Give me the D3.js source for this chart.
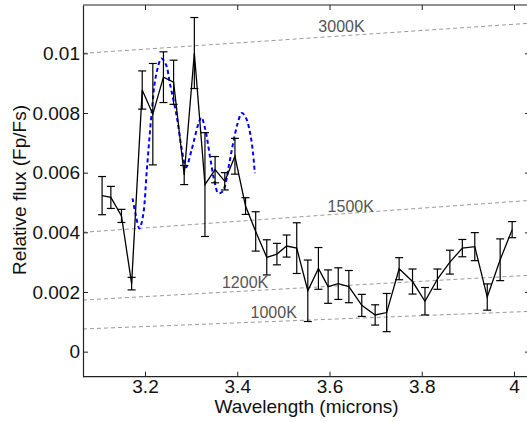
<!DOCTYPE html>
<html>
<head>
<meta charset="utf-8">
<script src="https://cdn.jsdelivr.net/npm/d3@7"></script>
<style>
  html, body { margin: 0; padding: 0; background: #fff; }
  svg { display: block; }
  text { font-family: "Liberation Sans", Arial, sans-serif; }
</style>
</head>
<body>
<svg id="chart" width="527" height="422"></svg>
<script>
// ---- data ----
const wavelength = [3.107, 3.126, 3.149, 3.171, 3.194, 3.217, 3.240, 3.262, 3.285, 3.307,
  3.330, 3.352, 3.373, 3.395, 3.418, 3.440, 3.464, 3.486, 3.507, 3.529,
  3.553, 3.576, 3.597, 3.619, 3.642, 3.670, 3.699, 3.724, 3.751, 3.780,
  3.807, 3.834, 3.861, 3.888, 3.915, 3.942, 3.970, 3.996];
const flux = [0.00523, 0.00517, 0.00455, 0.00228, 0.00877, 0.00796, 0.00920, 0.00903, 0.00592, 0.01001,
  0.00560, 0.00610, 0.00571, 0.00655, 0.00488, 0.00403, 0.00316, 0.00327, 0.00354, 0.00347,
  0.00204, 0.00279, 0.00218, 0.00228, 0.00218, 0.00155, 0.00123, 0.00131, 0.00278, 0.00235,
  0.00169, 0.00243, 0.00300, 0.00347, 0.00352, 0.00183, 0.00308, 0.00409];
const fluxErr = [0.00064, 0.00037, 0.00022, 0.00021, 0.00064, 0.00170, 0.00085, 0.00074, 0.00032, 0.00119,
  0.00174, 0.00044, 0.00029, 0.00060, 0.00028, 0.00066, 0.00059, 0.00036, 0.00037, 0.00085,
  0.00103, 0.00070, 0.00056, 0.00053, 0.00054, 0.00037, 0.00034, 0.00064, 0.00037, 0.00042,
  0.00046, 0.00034, 0.00040, 0.00029, 0.00047, 0.00044, 0.00070, 0.00027];

const modelWave = [3.173, 3.180, 3.188, 3.196, 3.204, 3.215, 3.224, 3.236, 3.246, 3.254,
  3.269, 3.280, 3.289, 3.301, 3.316, 3.322, 3.330, 3.341, 3.350, 3.359,
  3.367, 3.373, 3.382, 3.391, 3.401, 3.410, 3.419, 3.428, 3.434, 3.438];
const modelFlux = [0.00514, 0.00458, 0.00413, 0.00458, 0.00609, 0.00810, 0.00927, 0.00983, 0.00960, 0.00899,
  0.00787, 0.00676, 0.00618, 0.00676, 0.00765, 0.00785, 0.00750, 0.00653, 0.00575, 0.00531,
  0.00535, 0.00553, 0.00625, 0.00698, 0.00766, 0.00800, 0.00783, 0.00732, 0.00669, 0.00598];

const bbNames = ["3000K", "1500K", "1200K", "1000K"];
const bbWave = [3.0656, 4.0347];
const bb3000 = [0.01000, 0.01101];
const bb1500 = [0.00400, 0.00507];
const bb1200 = [0.00173, 0.00256];
const bb1000 = [0.00076, 0.00135];
const bbLabelWave = [3.626, 3.646, 3.417, 3.479];
const bbLabelFlux = [0.01071, 0.00469, 0.00212, 0.00113];

const xTicks = [3.2, 3.4, 3.6, 3.8, 4];
const xTickLabels = ["3.2", "3.4", "3.6", "3.8", "4"];
const yTicks = [0, 0.002, 0.004, 0.006, 0.008, 0.01];
const yTickLabels = ["0", "0.002", "0.004", "0.006", "0.008", "0.01"];

const xLabel = "Wavelength (microns)";
const yLabel = "Relative flux (Fp/Fs)";

// ---- layout ----
const L = 83, R = 530, T = 5, B = 376.7;
const svg = d3.select("#chart");
const x = d3.scaleLinear().domain([3.0656, 4.0347]).range([L, R]);
const y = d3.scaleLinear().domain([-0.00084, 0.01162]).range([B, T]);

const plot = svg.append("g");

// blackbody reference lines
const bbSeries = [bb3000, bb1500, bb1200, bb1000];
const line2 = d3.line().x(d => x(d[0])).y(d => y(d[1]));
bbSeries.forEach(vals => {
  plot.append("path")
    .attr("d", line2(bbWave.map((w, i) => [w, vals[i]])))
    .attr("fill", "none").attr("stroke", "#9a9a9a").attr("stroke-width", 1)
    .attr("stroke-dasharray", "4,3");
});
bbNames.forEach((n, i) => {
  plot.append("text").attr("x", x(bbLabelWave[i])).attr("y", y(bbLabelFlux[i]))
    .attr("text-anchor", "middle").attr("font-size", "16px").attr("fill", "#555")
    .text(n);
});

// model curve (blue dashed)
const lineModel = d3.line().x(d => x(d[0])).y(d => y(d[1])).curve(d3.curveCatmullRom);
plot.append("path")
  .attr("d", lineModel(modelWave.map((w, i) => [w, modelFlux[i]])))
  .attr("fill", "none").attr("stroke", "#0000ff").attr("stroke-width", 2)
  .attr("stroke-dasharray", "4,3");

// error bars
const cap = 4;
wavelength.forEach((w, i) => {
  const cx = x(w), y1 = y(flux[i] + fluxErr[i]), y2 = y(flux[i] - fluxErr[i]);
  const g = plot.append("g").attr("stroke", "#000").attr("stroke-width", 1.2);
  g.append("line").attr("x1", cx).attr("x2", cx).attr("y1", y1).attr("y2", y2);
  g.append("line").attr("x1", cx - cap).attr("x2", cx + cap).attr("y1", y1).attr("y2", y1);
  g.append("line").attr("x1", cx - cap).attr("x2", cx + cap).attr("y1", y2).attr("y2", y2);
});

// data line
const lineData = d3.line().x(d => x(d[0])).y(d => y(d[1]));
plot.append("path")
  .attr("d", lineData(wavelength.map((w, i) => [w, flux[i]])))
  .attr("fill", "none").attr("stroke", "#000").attr("stroke-width", 1.3);

// axes (matlab-like box with inward ticks)
const axColor = "#222";
const fs = "19px";
const axB = svg.append("g").attr("transform", `translate(0,${B})`)
  .call(d3.axisBottom(x).tickValues(xTicks).tickFormat((d, i) => xTickLabels[i])
    .tickSizeInner(-5).tickSizeOuter(0).tickPadding(3));
const axT = svg.append("g").attr("transform", `translate(0,${T})`)
  .call(d3.axisTop(x).tickValues(xTicks).tickFormat("").tickSizeInner(-5).tickSizeOuter(0));
const axL = svg.append("g").attr("transform", `translate(${L},0)`)
  .call(d3.axisLeft(y).tickValues(yTicks).tickFormat((d, i) => yTickLabels[i])
    .tickSizeInner(-5).tickSizeOuter(0).tickPadding(3));
const axR = svg.append("g").attr("transform", `translate(${R},0)`)
  .call(d3.axisRight(y).tickValues(yTicks).tickFormat("").tickSizeInner(-5).tickSizeOuter(0));
[axB, axT, axL, axR].forEach(a => {
  a.select(".domain").attr("stroke", axColor).attr("stroke-width", 1.2);
  a.selectAll(".tick line").attr("stroke", axColor);
  a.selectAll("text").attr("font-size", fs).attr("fill", "#111")
    .attr("font-family", "Liberation Sans, Arial, sans-serif");
});
axB.select(".domain").attr("d", `M${L},0H${R}`);
axT.select(".domain").attr("d", `M${L},0H${R}`);

// axis labels
svg.append("text").attr("x", (L + R) / 2).attr("y", 413).attr("text-anchor", "middle")
  .attr("font-size", fs).attr("fill", "#111").text(xLabel);
svg.append("text").attr("transform", "translate(25.5,190) rotate(-90)").attr("text-anchor", "middle")
  .attr("font-size", fs).attr("fill", "#111").text(yLabel);
</script>
</body>
</html>
